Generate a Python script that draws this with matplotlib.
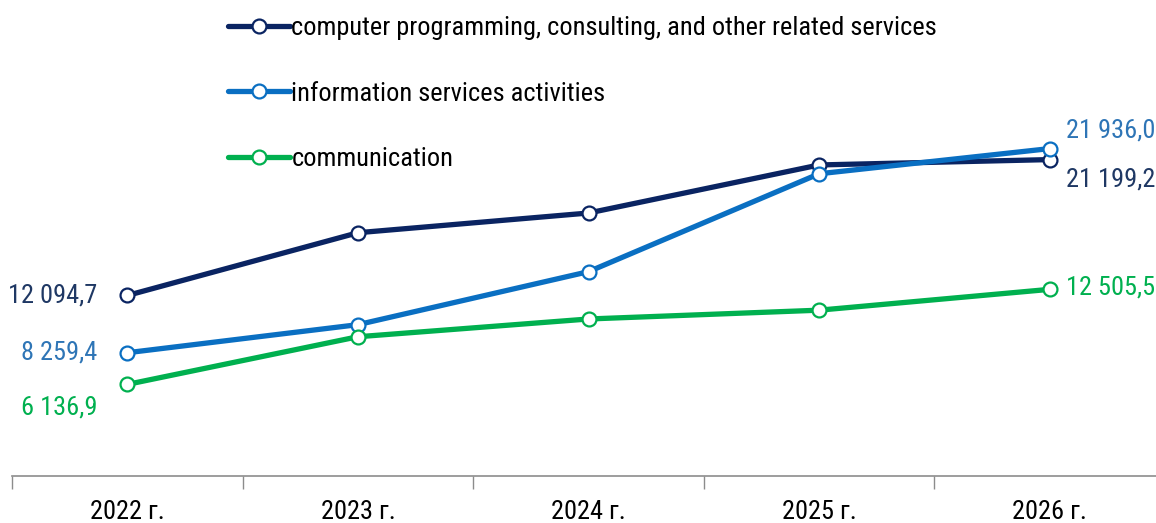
import matplotlib.pyplot as plt
from matplotlib import font_manager as fm

years = ["2022 г.", "2023 г.", "2024 г.", "2025 г.", "2026 г."]
computer = [12094.7, 16300, 17620, 20840, 21199.2]
info = [8259.4, 10140, 13690, 20250, 21936.0]
comm = [6136.9, 9330, 10520, 11110, 12505.5]

names = ["computer programming, consulting, and other related services",
         "information services activities",
         "communication"]
line_colors = ["#0a2462", "#0a6fc2", "#00b04f"]
label_colors = ["#1f3864", "#2e75b6", "#00b04f"]

# the original uses a condensed face, take it if it is there
installed = {f.name for f in fm.fontManager.ttflist}
condensed = "Roboto Condensed" in installed
plt.rcParams['font.family'] = ['Roboto Condensed' if condensed else 'Roboto', 'DejaVu Sans']
fs = 19 if condensed else 16
fs_leg = 19 if condensed else 16

fig = plt.figure(figsize=(11.56, 5.23), dpi=100)
# axis runs past the right edge of the picture like the original
ax = fig.add_axes([12 / 1156, 1 - 476 / 523, 1153 / 1156, 476 / 523])

x = list(range(len(years)))
series = [computer, info, comm]
for vals, name, c in zip(series, names, line_colors):
    ax.plot(x, vals, color=c, lw=3.8, marker="o", ms=10, mfc="white",
            mec=c, mew=1.6, label=name, solid_capstyle="round", zorder=3)

ax.set_xlim(-0.5, 4.5)
ax.set_ylim(0, 476 * 67)

# value labels at both ends
ax.annotate("12 094,7", (0, computer[0]), xytext=(-30, 0), textcoords="offset pixels",
            ha="right", va="center", color=label_colors[0], fontsize=fs)
ax.annotate("8 259,4", (0, info[0]), xytext=(-30, 0), textcoords="offset pixels",
            ha="right", va="center", color=label_colors[1], fontsize=fs)
ax.annotate("6 136,9", (0, comm[0]), xytext=(-30, -23), textcoords="offset pixels",
            ha="right", va="center", color=label_colors[2], fontsize=fs)
ax.annotate("21 936,0", (4, info[-1]), xytext=(16, 18), textcoords="offset pixels",
            ha="left", va="center", color=label_colors[1], fontsize=fs)
ax.annotate("21 199,2", (4, computer[-1]), xytext=(16, -20), textcoords="offset pixels",
            ha="left", va="center", color=label_colors[0], fontsize=fs)
ax.annotate("12 505,5", (4, comm[-1]), xytext=(16, 2), textcoords="offset pixels",
            ha="left", va="center", color=label_colors[2], fontsize=fs)

for s in ["top", "right", "left"]:
    ax.spines[s].set_visible(False)
ax.spines["bottom"].set_color("#8c8c8c")
ax.spines["bottom"].set_linewidth(1.2)
ax.set_yticks([])
ax.set_xticks([i - 0.5 for i in range(len(years) + 1)])
ax.set_xticklabels([])
ax.set_xticks(x, minor=True)
ax.set_xticklabels(years, minor=True, fontsize=19 if condensed else 16, color="black")
ax.tick_params(axis="x", which="major", length=9, color="#8c8c8c", width=1)
ax.tick_params(axis="x", which="minor", length=0, pad=17)

leg = ax.legend(loc="upper left", bbox_to_anchor=(228 / 1156, 1 - 16 / 523),
                bbox_transform=fig.transFigure, frameon=False, fontsize=fs_leg,
                labelspacing=1.58, handlelength=2.35, handletextpad=0.05,
                borderpad=0, borderaxespad=0, numpoints=1)
for t in leg.get_texts():
    t.set_color("black")

fig.savefig("out.png", dpi=100)
